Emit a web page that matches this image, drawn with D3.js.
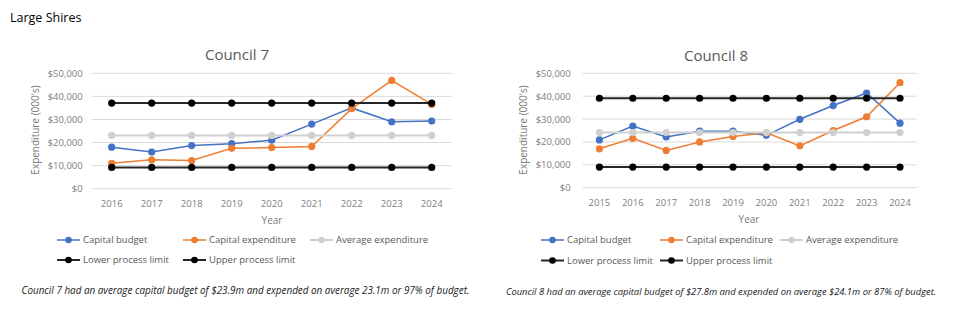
<!DOCTYPE html>
<html>
<head>
<meta charset="utf-8">
<script src="https://cdn.jsdelivr.net/npm/d3@7/dist/d3.min.js"></script>
<style>
  html, body { margin: 0; padding: 0; background: #fff; }
  svg { display: block; font-family: "Open Sans", sans-serif; }
</style>
</head>
<body>
<svg id="chart" width="957" height="326"></svg>
<script>
// ---- Data (expenditure in $000's) ----
const yTicks = [0, 10000, 20000, 30000, 40000, 50000];

const council7Years = ["2016", "2017", "2018", "2019", "2020", "2021", "2022", "2023", "2024"];
const council7Budget = [18000, 15900, 18700, 19500, 21000, 28000, 35000, 29000, 29300];
const council7Expenditure = [11000, 12500, 12200, 17500, 17800, 18300, 34700, 46900, 36500];
const council7Average = 23100;
const council7Lower = 9200;
const council7Upper = 37100;

const council8Years = ["2015", "2016", "2017", "2018", "2019", "2020", "2021", "2022", "2023", "2024"];
const council8Budget = [20900, 26900, 22200, 24700, 24700, 22900, 29900, 35900, 41400, 28200];
const council8Expenditure = [17000, 21600, 16300, 20000, 22400, 24000, 18300, 25000, 31000, 45900];
const council8Average = 24100;
const council8Lower = 9000;
const council8Upper = 39100;

const seriesNames = ["Capital budget", "Capital expenditure", "Average expenditure",
                     "Lower process limit", "Upper process limit"];

const captions = [
  "Council 7 had an average capital budget of $23.9m and expended on average 23.1m or 97% of budget.",
  "Council 8 had an average capital budget of $27.8m and expended on average $24.1m or 87% of budget."
];

// ---- Styles ----
const seriesStyle = [
  { color: "#4472c4", width: 1.5 },
  { color: "#ed7d31", width: 1.5 },
  { color: "#cfcfcf", width: 2 },
  { color: "#262626", width: 2 },
  { color: "#262626", width: 2 }
];
const markerColor = ["#4472c4", "#ed7d31", "#cfcfcf", "#000", "#000"];

const svg = d3.select("#chart");

svg.append("text")
  .attr("x", 10).attr("y", 22)
  .attr("font-size", 12.5).attr("fill", "#000")
  .text("Large Shires");

function drawChart(opt) {
  const g = svg.append("g");
  const x = d3.scaleBand().domain(opt.years).range([opt.left, opt.right]).padding(0);
  const y = d3.scaleLinear().domain([0, 50000]).range([opt.bottom, opt.top]);
  const cx = d => x(d) + x.bandwidth() / 2;

  // title
  g.append("text")
    .attr("x", opt.titleX).attr("y", opt.titleY)
    .attr("text-anchor", "middle")
    .attr("font-size", 15).attr("fill", "#595959")
    .text(opt.title);

  // gridlines
  g.selectAll(".grid").data(yTicks).join("line")
    .attr("x1", opt.left).attr("x2", opt.right)
    .attr("y1", d => y(d)).attr("y2", d => y(d))
    .attr("stroke", "#d9d9d9").attr("stroke-width", 1);

  // y axis
  const yAxis = d3.axisLeft(y).tickValues(yTicks)
    .tickFormat(d => "$" + d3.format(",")(d)).tickSize(0).tickPadding(opt.tickPad);
  const ya = g.append("g").attr("transform", `translate(${opt.left},0)`).call(yAxis);
  ya.select(".domain").remove();
  ya.selectAll("text").attr("font-size", 9.5).attr("fill", "#808080")
    .attr("font-family", "Open Sans, sans-serif");

  // x axis
  const xAxis = d3.axisBottom(x).tickSize(0).tickPadding(0);
  const xa = g.append("g").attr("transform", `translate(0,${opt.bottom})`).call(xAxis);
  xa.select(".domain").remove();
  xa.selectAll("text").attr("font-size", 9.5).attr("fill", "#808080")
    .attr("font-family", "Open Sans, sans-serif")
    .attr("y", opt.yearY - opt.bottom).attr("dy", "0.35em");

  // axis titles
  g.append("text")
    .attr("x", opt.yearTitleX).attr("y", opt.yearTitleY).attr("dy", "0.35em")
    .attr("text-anchor", "middle").attr("font-size", 10).attr("fill", "#7a7a7a")
    .text("Year");
  g.append("text")
    .attr("transform", `translate(${opt.yTitleX},${opt.yTitleY}) rotate(-90)`)
    .attr("dy", "0.35em")
    .attr("text-anchor", "middle").attr("font-size", 10).attr("fill", "#7a7a7a")
    .text("Expenditure (000's)");

  // series
  const series = [
    opt.budget,
    opt.expenditure,
    opt.years.map(() => opt.average),
    opt.years.map(() => opt.lower),
    opt.years.map(() => opt.upper)
  ];
  const line = d3.line().x((d, i) => cx(opt.years[i])).y(d => y(d));
  series.forEach((vals, si) => {
    g.append("path").datum(vals)
      .attr("d", line).attr("fill", "none")
      .attr("stroke", seriesStyle[si].color)
      .attr("stroke-width", seriesStyle[si].width);
    g.selectAll(".m" + si).data(vals).join("circle")
      .attr("cx", (d, i) => cx(opt.years[i])).attr("cy", d => y(d))
      .attr("r", 3.6).attr("fill", markerColor[si]);
  });

  // legend
  const legendPos = [
    [opt.legX[0], opt.legY[0]], [opt.legX[1], opt.legY[0]], [opt.legX[2], opt.legY[0]],
    [opt.legX[0], opt.legY[1]], [opt.legX[1], opt.legY[1]]
  ];
  seriesNames.forEach((name, si) => {
    const [lx, ly] = legendPos[si];
    const lg = g.append("g").attr("transform", `translate(${lx},${ly})`);
    lg.append("line").attr("x1", 0).attr("x2", 23).attr("y1", 0).attr("y2", 0)
      .attr("stroke", seriesStyle[si].color).attr("stroke-width", seriesStyle[si].width);
    lg.append("circle").attr("cx", 11.5).attr("cy", 0).attr("r", 3.3).attr("fill", markerColor[si]);
    lg.append("text").attr("x", 26).attr("y", 0).attr("dy", "0.35em")
      .attr("font-size", 9.5).attr("fill", "#595959").text(name);
  });

  // caption
  g.append("text")
    .attr("x", opt.captionX).attr("y", opt.captionY).attr("dy", "0.35em")
    .attr("text-anchor", "middle").attr("font-size", opt.captionSize).attr("font-style", "italic")
    .attr("fill", "#1a1a1a")
    .text(opt.caption);
}

drawChart({
  title: "Council 7", titleX: 237, titleY: 60,
  years: council7Years, budget: council7Budget, expenditure: council7Expenditure,
  average: council7Average, lower: council7Lower, upper: council7Upper,
  left: 91.7, right: 451.7, top: 73.3, bottom: 188.7, tickPad: 9,
  yearY: 203.3, yearTitleX: 272, yearTitleY: 220,
  yTitleX: 35, yTitleY: 130,
  legX: [57, 183, 310], legY: [240, 260],
  caption: captions[0], captionX: 245.5, captionY: 291, captionSize: 9.9
});

drawChart({
  title: "Council 8", titleX: 716, titleY: 61,
  years: council8Years, budget: council8Budget, expenditure: council8Expenditure,
  average: council8Average, lower: council8Lower, upper: council8Upper,
  left: 582.7, right: 916.7, top: 73.3, bottom: 187.7, tickPad: 12,
  yearY: 202.5, yearTitleX: 749, yearTitleY: 219,
  yTitleX: 523, yTitleY: 130,
  legX: [541, 660, 780], legY: [240, 260.5],
  caption: captions[1], captionX: 721, captionY: 291.5, captionSize: 9.4
});
</script>
</body>
</html>
